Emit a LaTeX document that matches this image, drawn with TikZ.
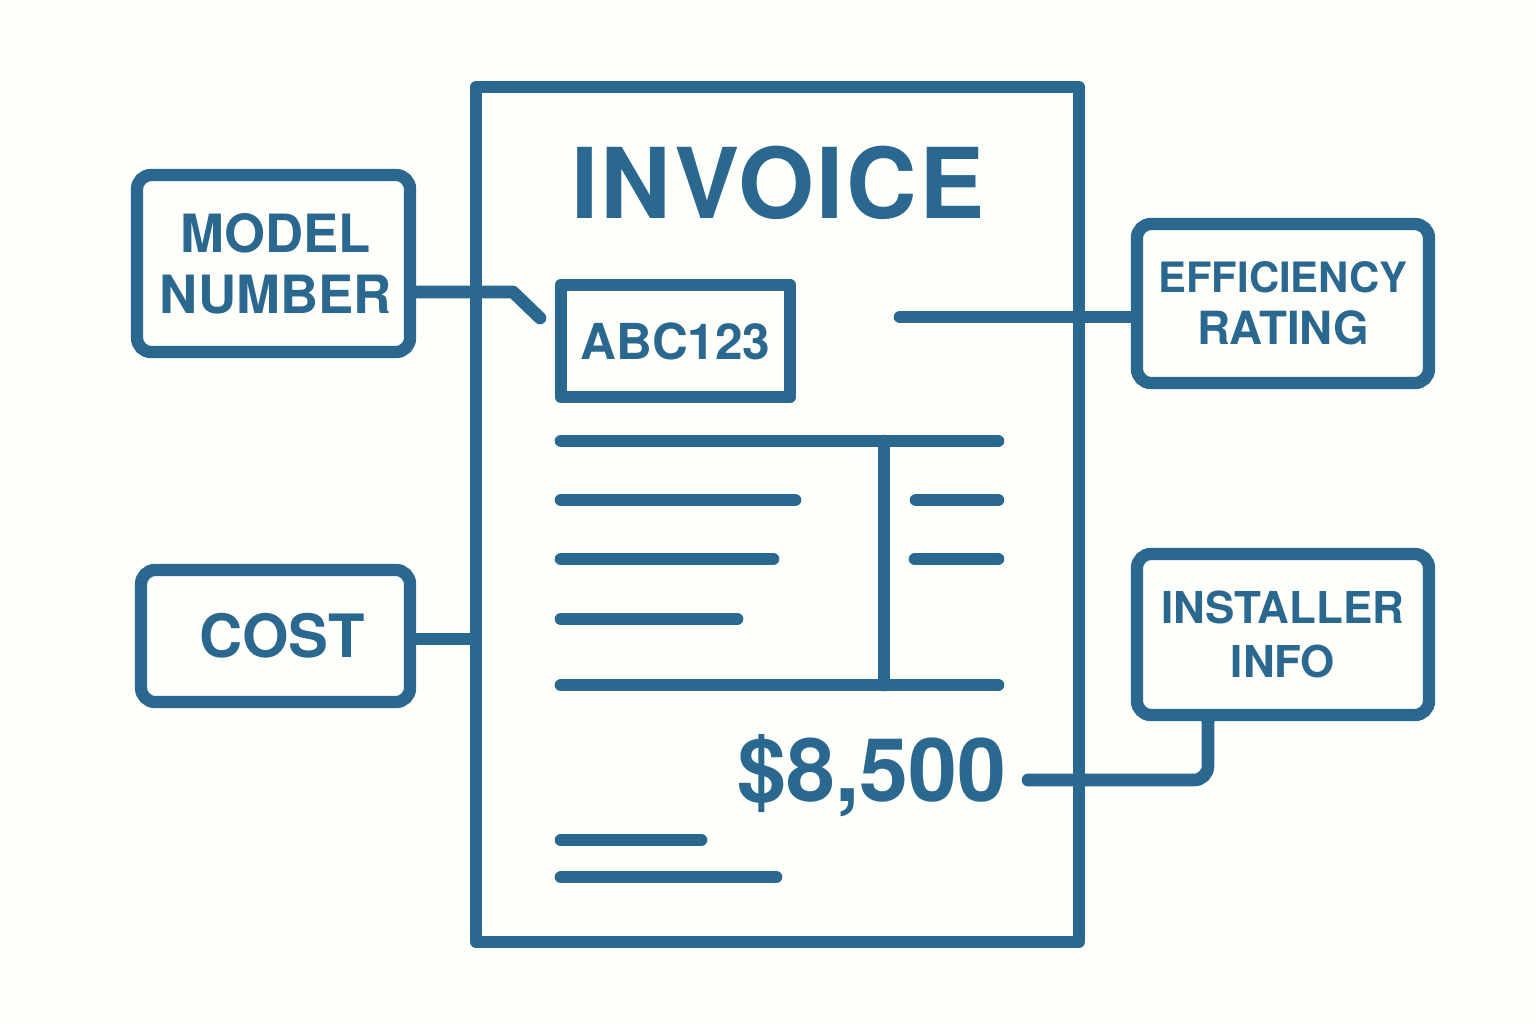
\documentclass[tikz,border=0pt]{standalone}
\usepackage{fontspec}
\setmainfont{TeX Gyre Heros}
\usetikzlibrary{positioning}
\definecolor{inkblue}{HTML}{2A688F}
\definecolor{paper}{HTML}{FEFEFA}
\begin{document}
\begin{tikzpicture}[
    node distance = 0.54,
    box/.style = {draw=inkblue, line width=3.5pt, rounded corners=4pt, align=center,
                  inner sep=0pt, text=inkblue},
    sheet/.style = {box, sharp corners, line join=round},
    link/.style = {draw=inkblue, line width=3.6pt, line cap=round},
    rule/.style = {draw=inkblue, line width=3.6pt, line cap=round}
]

% Canvas
\fill[paper] (0,0) rectangle (15.36,-10.24);
\useasboundingbox (0,0) rectangle (15.36,-10.24);

% Invoice page
\node[sheet, line width=3.3pt, minimum width=6.03cm, minimum height=8.55cm] (page) at (7.775,-5.145) {};
\node[text=inkblue, font=\bfseries\fontsize{27.8}{30}\selectfont\addfontfeatures{LetterSpace=2.6}] (title) at (7.78,-1.83) {INVOICE};
\node[sheet, minimum width=2.29cm, minimum height=1.12cm, font=\bfseries\fontsize{14.1}{16}\selectfont] (model) at (6.755,-3.41) {ABC123};
\node[text=inkblue, font=\bfseries\fontsize{25}{27}\selectfont, anchor=east, inner sep=0pt] (total) at (10.07,-7.76) {\$8,500};

% Side labels
\node[box, minimum width=2.73cm, minimum height=1.77cm, left=of page.west, yshift=2.51cm,
      font=\bfseries\fontsize{15}{17.4}\selectfont] (number) {\hspace*{1.2pt}MODEL\\\hspace*{1.2pt}NUMBER};
\node[box, minimum width=2.69cm, minimum height=1.32cm, left=of page.west, yshift=-1.215cm,
      font=\bfseries\fontsize{17}{19}\selectfont] (cost) {\hspace*{3.8pt}\raisebox{-0.6pt}{COST}};
\node[box, minimum width=2.92cm, minimum height=1.59cm, right=0.46 of page.east, yshift=2.11cm,
      font=\bfseries\fontsize{11.9}{15.2}\selectfont] (rating) {\raisebox{-0.5pt}{EFFICIENCY}\\{\fontsize{13}{15.2}\selectfont RATING}};
\node[box, minimum width=2.92cm, minimum height=1.61cm, right=0.46 of page.east, yshift=-1.20cm,
      font=\bfseries\fontsize{12.5}{15.4}\selectfont] (installer) {INSTALLER\\INFO};

% Free ends
\coordinate (numberend) at (5.40,-3.18);
\coordinate (ratingend) at (9.00,-3.17);
\coordinate (installerend) at (10.28,-7.80);

% Connectors
\draw[link, line join=round] (number.east |- 0,-2.92) -- (5.13,-2.92) -- (numberend);
\draw[link] (ratingend) -- (rating.west |- ratingend);
\draw[link] (cost.east |- 0,-6.39) -- (page.west |- 0,-6.39);
\draw[link, rounded corners=4pt] (installerend) -- (12.08,-7.80) -- (installer.south -| 12.08,0);

% Table rules
\foreach \y/\xa/\xb in {4.41/5.61/9.98, 5.00/5.61/7.95, 5.59/5.61/7.73, 6.19/5.61/7.37,
                        6.85/5.61/9.98, 5.00/9.16/9.98, 5.59/9.15/9.98,
                        8.40/5.61/7.01, 8.77/5.61/7.76}
    \draw[rule] (\xa,-\y) -- (\xb,-\y);
\draw[rule] (8.84,-4.41) -- (8.84,-6.85);

\end{tikzpicture}
\end{document}
